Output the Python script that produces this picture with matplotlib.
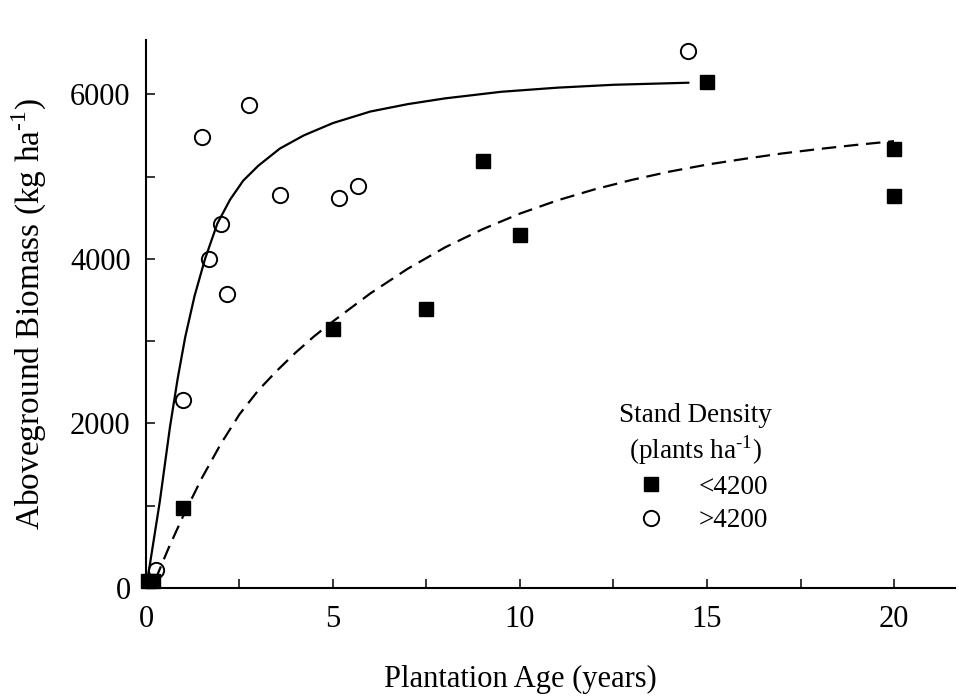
"""
Biomasa aérea vs edad de plantación, por densidad del rodal.
"""

import matplotlib
matplotlib.use("Agg")
import matplotlib.pyplot as plt
from matplotlib.ticker import MultipleLocator
from matplotlib.lines import Line2D

plt.rcParams["font.family"] = ["Liberation Serif", "DejaVu Serif"]
plt.rcParams["mathtext.fontset"] = "custom"
plt.rcParams["mathtext.rm"] = "Liberation Serif"

# Rodales < 4200 plantas/ha
low_age = [0.05, 0.2, 1.0, 5.0, 7.5, 9.0, 10.0, 15.0, 20.0, 20.0]
low_biomass = [80, 90, 970, 3145, 3385, 5185, 4290, 6145, 5335, 4760]

# Rodales > 4200 plantas/ha
high_age = [0.27, 1.0, 1.49, 1.68, 2.0, 2.17, 2.75, 3.58, 5.17, 5.66, 14.5]
high_biomass = [215, 2285, 5480, 4000, 4420, 3575, 5870, 4775, 4735, 4885, 6525]

fit_high_age = [0.03, 0.11, 0.37, 0.64, 0.85, 1.05, 1.3, 1.58, 1.91, 2.25, 2.6,
                3.0, 3.58, 4.22, 5.0, 6.0, 7.0, 8.0, 9.5, 11.0, 12.5, 14.5]
fit_high_biomass = [80, 300, 1050, 1950, 2550, 3050, 3550, 4000, 4430, 4720, 4950,
                    5130, 5340, 5500, 5650, 5790, 5880, 5950, 6030, 6080, 6115, 6140]

fit_low_age = [0.25, 0.6, 1.0, 1.5, 2.0, 2.5, 3.0, 3.5, 4.0, 4.5, 5.0, 6.0, 7.0,
               8.0, 9.0, 10.0, 11.0, 12.0, 13.0, 14.0, 15.0, 16.0, 17.0, 18.0,
               19.0, 20.0]
fit_low_biomass = [100, 480, 880, 1340, 1750, 2110, 2400, 2640, 2860, 3060, 3240,
                   3580, 3880, 4140, 4360, 4550, 4710, 4845, 4960, 5060, 5145,
                   5215, 5280, 5335, 5385, 5430]

x_ticks = [0, 5, 10, 15, 20]
y_ticks = [0, 2000, 4000, 6000]

SUP = "$^{\\text{-1}}$"

fig = plt.figure(figsize=(9.59, 6.96), dpi=100)
ax = fig.add_axes([0.1522, 0.1552, 0.8436, 0.7873])

ax.plot(fit_high_age, fit_high_biomass, color="black", linewidth=1.6)
ax.plot(fit_low_age, fit_low_biomass, color="black", linewidth=1.6,
        linestyle=(0, (6.5, 3.5)))

ax.plot(low_age, low_biomass, "s", color="black", markersize=10, clip_on=False,
        zorder=3)
ax.plot(high_age, high_biomass, "o", markerfacecolor="none",
        markeredgecolor="black", markeredgewidth=1.4, markersize=11,
        clip_on=False, zorder=3)

ax.set_xlim(0, 21.63)
ax.set_ylim(0, 6659)
ax.set_xticks(x_ticks)
ax.set_yticks(y_ticks)
ax.xaxis.set_minor_locator(MultipleLocator(2.5))
ax.yaxis.set_minor_locator(MultipleLocator(1000))
ax.tick_params(which="both", direction="in", length=6.5, width=1.1,
               labelsize=22)
ax.tick_params(axis="x", which="major", pad=12)
ax.tick_params(axis="y", which="major", pad=11)

for side in ["top", "right"]:
    ax.spines[side].set_visible(False)
for side in ["left", "bottom"]:
    ax.spines[side].set_linewidth(1.5)

ax.set_xlabel("Plantation Age (years)", fontsize=22)
ax.xaxis.set_label_coords(10 / 21.63, -0.14)
ax.set_ylabel("Aboveground Biomass (kg ha" + SUP + ")", fontsize=24)
ax.yaxis.set_label_coords(-0.12, 0.5)

handles = [
    Line2D([], [], marker="s", color="black", linestyle="none", markersize=10),
    Line2D([], [], marker="o", markerfacecolor="none", markeredgecolor="black",
           markeredgewidth=1.4, linestyle="none", markersize=11),
]
leg = ax.legend(handles, ["<4200", ">4200"],
                title="Stand Density\n(plants ha" + SUP + ")",
                loc="upper left", bbox_to_anchor=(0.585, 0.338), frameon=False,
                borderpad=0, borderaxespad=0, fontsize=19.5,
                title_fontsize=19.5, handlelength=2.0, handletextpad=0.75,
                labelspacing=0.3)
leg.get_title().set_multialignment("center")

fig.savefig("out.png", dpi=100)
